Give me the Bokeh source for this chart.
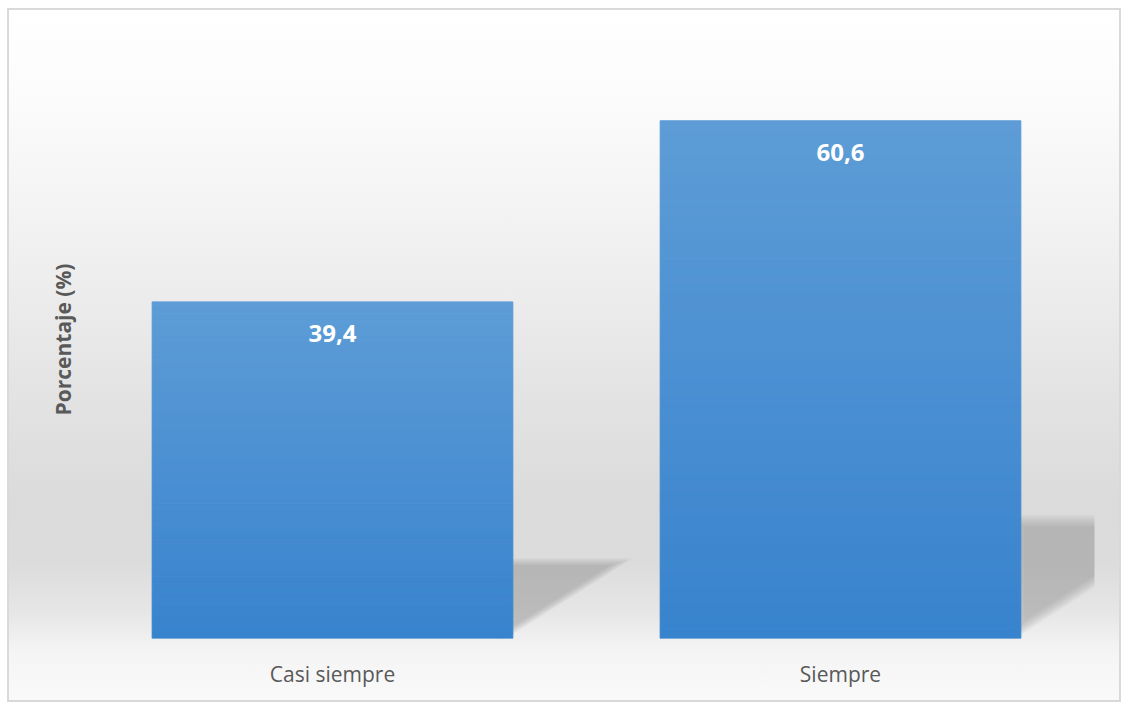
import numpy as np
from bokeh.plotting import figure
from bokeh.models import ColumnDataSource, Range1d, FixedTicker
from bokeh.core.properties import value
from bokeh.embed import file_html
from bokeh.resources import INLINE

# ---- data ----
categories = ["Casi siempre", "Siempre"]
values = [39.4, 60.6]
labels = ["39,4", "60,6"]
y_label = "Porcentaje (%)"

xs = list(range(len(categories)))
BAR_W = 0.71
FONT = "Open Sans"
TEXT_GRAY = "#595959"

p = figure(width=1114, height=694,
           x_range=Range1d(-0.5, len(categories) - 0.5),
           y_range=Range1d(0, 70),
           output_backend="svg", toolbar_location=None,
           min_border_left=71, min_border_right=27,
           min_border_top=32, min_border_bottom=64)
p.margin = (8, 0, 0, 7)
p.background_fill_alpha = 0
p.border_fill_alpha = 0
p.outline_line_color = None
p.grid.visible = False
p.styles = {
    "background": "linear-gradient(to bottom, #FFFFFF 0%, #FBFBFB 14%, #F0F0F0 35%, "
                  "#E3E3E3 56%, #DBDBDB 71%, #DCDCDC 80%, #E6E6E6 87%, #F4F4F4 92.5%, #FAFAFA 100%)",
    "outline": "2px solid #D9D9D9",
    "outline-offset": "-2px",
}

# ---- shadows (derived from bar values) ----
def hex2rgb(h):
    h = h.lstrip("#")
    return np.array([int(h[i:i + 2], 16) for i in (0, 2, 4)], dtype=float)

SKEW_X = 0.0057   # x offset per value unit (category units)
SKEW_Y = 0.233    # shadow height fraction
sh_xs, sh_ys = [], []
for scale in np.linspace(1.08, 0.78, 9):
    for i, v in zip(xs, values):
        xr = i + BAR_W / 2
        px = np.array([xr - 0.02, xr + SKEW_X * v, xr - 0.02])
        py = np.array([0.0, SKEW_Y * v, SKEW_Y * v])
        cx, cy = px.mean(), py.mean()
        sh_xs.append(list(cx + (px - cx) * scale))
        sh_ys.append(list(cy + (py - cy) * scale))
p.patches(sh_xs, sh_ys, fill_color="#8C8C8C", fill_alpha=0.06, line_color=None)

# ---- bars with vertical gradient ----
top_c = hex2rgb("#5D9CD6")
bot_c = hex2rgb("#3883CE")
N = 60
bx, bb, bt, bc = [], [], [], []
for i, v in zip(xs, values):
    edges = np.linspace(0, v, N + 1)
    for k in range(N):
        f = (k + 0.5) / N
        c = bot_c + (top_c - bot_c) * f
        bx.append(i)
        bb.append(edges[k])
        bt.append(edges[k + 1])
        bc.append("#%02X%02X%02X" % tuple(int(round(t)) for t in c))
src = ColumnDataSource(dict(x=bx, bottom=bb, top=bt, color=bc))
p.vbar(x="x", bottom="bottom", top="top", width=BAR_W, fill_color="color",
       line_color="color", line_width=1, source=src)

# ---- data labels ----
p.text(x=xs, y=values, text=labels, text_align="center", text_baseline="middle",
       y_offset=32, text_color="white", text_font=value(FONT),
       text_font_style="bold", text_font_size="24px")

# ---- axes ----
p.xaxis.ticker = FixedTicker(ticks=xs)
p.xaxis.major_label_overrides = {i: c for i, c in zip(xs, categories)}
p.xaxis.axis_line_color = None
p.xaxis.major_tick_line_color = None
p.xaxis.minor_tick_line_color = None
p.xaxis.major_tick_out = 0
p.xaxis.major_label_standoff = 21
p.xaxis.major_label_text_font = FONT
p.xaxis.major_label_text_font_size = "21px"
p.xaxis.major_label_text_color = TEXT_GRAY

p.yaxis.ticker = FixedTicker(ticks=[])
p.yaxis.axis_label = y_label
p.yaxis.axis_label_text_font = FONT
p.yaxis.axis_label_text_font_style = "bold"
p.yaxis.axis_label_text_font_size = "21px"
p.yaxis.axis_label_text_color = TEXT_GRAY
p.yaxis.axis_label_standoff = 2
p.yaxis.axis_line_color = None
p.yaxis.major_tick_line_color = None
p.yaxis.minor_tick_line_color = None
p.yaxis.major_tick_out = 0
p.yaxis.major_label_standoff = 0

open("out.html", "w").write(file_html(p, INLINE))
